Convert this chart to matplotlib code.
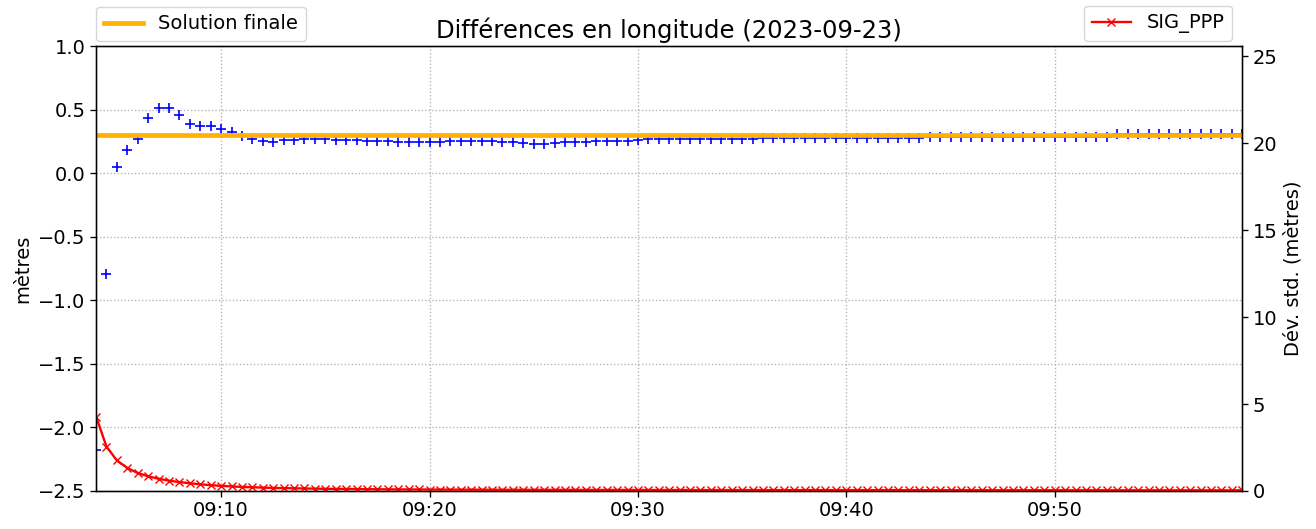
import numpy as np
import pandas as pd
import matplotlib
matplotlib.use("Agg")
import matplotlib.pyplot as plt
import matplotlib.dates as mdates

# epochs every 30 s from 09:04:00 to 09:59:00
temps = pd.date_range("2023-09-23 09:04:00", "2023-09-23 09:59:00", freq="30s")

# longitude differences (m)
diff_lon = [-2.18, -0.79, 0.05, 0.18, 0.27, 0.43, 0.51, 0.51, 0.46, 0.39,
            0.37, 0.37, 0.35, 0.32, 0.29, 0.27, 0.254, 0.246, 0.26, 0.26,
            0.265, 0.265, 0.265, 0.26, 0.26, 0.26, 0.252, 0.252, 0.25, 0.246,
            0.246, 0.246, 0.246, 0.246, 0.254, 0.254, 0.254, 0.254, 0.25, 0.246,
            0.246, 0.238, 0.233, 0.233, 0.24, 0.246, 0.246, 0.246, 0.254, 0.254,
            0.254, 0.254, 0.262, 0.267, 0.267, 0.267, 0.267, 0.267, 0.267, 0.267,
            0.267, 0.267, 0.27, 0.27, 0.275, 0.275, 0.275, 0.275, 0.275, 0.275,
            0.275, 0.275, 0.275, 0.275, 0.275, 0.275, 0.275, 0.275, 0.275, 0.275,
            0.285, 0.285, 0.285, 0.285, 0.285, 0.285, 0.285, 0.285, 0.285, 0.285,
            0.285, 0.285, 0.285, 0.285, 0.285, 0.285, 0.285, 0.285, 0.305, 0.305,
            0.305, 0.305, 0.305, 0.305, 0.305, 0.305, 0.305, 0.305, 0.305, 0.305,
            0.305]

# standard deviation (m)
sig_ppp = [4.28, 2.55, 1.75, 1.32, 1.03, 0.84, 0.70, 0.59, 0.51, 0.44,
           0.38, 0.33, 0.29, 0.26, 0.23, 0.21, 0.19, 0.17, 0.16, 0.15,
           0.14, 0.13, 0.12, 0.115, 0.11, 0.105, 0.10, 0.095, 0.09, 0.088,
           0.085, 0.083, 0.08, 0.078, 0.076, 0.074, 0.072, 0.07, 0.068, 0.066,
           0.065, 0.064, 0.063, 0.062, 0.061, 0.06, 0.059, 0.058, 0.057, 0.056,
           0.055, 0.054, 0.053, 0.052, 0.052, 0.051, 0.05, 0.05, 0.049, 0.049,
           0.048, 0.048, 0.047, 0.047, 0.046, 0.046, 0.045, 0.045, 0.045, 0.044,
           0.044, 0.044, 0.043, 0.043, 0.043, 0.042, 0.042, 0.042, 0.041, 0.041,
           0.041, 0.04, 0.04, 0.04, 0.04, 0.039, 0.039, 0.039, 0.039, 0.038,
           0.038, 0.038, 0.038, 0.037, 0.037, 0.037, 0.037, 0.036, 0.036, 0.036,
           0.036, 0.035, 0.035, 0.035, 0.035, 0.035, 0.034, 0.034, 0.034, 0.034,
           0.034]

solution_finale = 0.30

plt.rcParams["axes.linewidth"] = 0.95
plt.rcParams["xtick.major.size"] = 4.1
plt.rcParams["ytick.major.size"] = 4.1
plt.rcParams["xtick.major.width"] = 0.95
plt.rcParams["ytick.major.width"] = 0.95

fig, ax1 = plt.subplots(figsize=(13.16, 5.29), dpi=100)
fig.subplots_adjust(left=0.073, right=0.944, top=0.913, bottom=0.072)

ax1.plot(temps, diff_lon, "+", color="blue", markersize=7, markeredgewidth=1.2)
ax1.axhline(solution_finale, color="#FFB000", linewidth=3.4, label="Solution finale")
ax1.set_ylim(-2.5, 1.0)
ax1.set_xlim(temps[0], temps[-1])
ax1.set_ylabel("mètres", fontsize=14)
ax1.grid(True, linestyle=":", color="#b0b0b0", linewidth=0.95)
ax1.xaxis.set_major_locator(mdates.MinuteLocator(byminute=[10, 20, 30, 40, 50]))
ax1.xaxis.set_major_formatter(mdates.DateFormatter("%H:%M"))
ax1.tick_params(labelsize=14)
ax1.set_title("Différences en longitude (2023-09-23)", fontsize=17.5)

ax2 = ax1.twinx()
ax2.plot(temps, sig_ppp, "-x", color="red", markersize=5.5, linewidth=1.7, label="SIG_PPP")
ax2.set_ylim(0, 25.6)
ax2.set_ylabel("Dév. std. (mètres)", fontsize=14)
ax2.tick_params(labelsize=14)

ax1.legend(loc="lower left", bbox_to_anchor=(0, 1.011), borderaxespad=0, fontsize=14)
ax2.legend(loc="lower right", bbox_to_anchor=(0.991, 1.011), borderaxespad=0, fontsize=14)

fig.savefig("out.png", dpi=100)
